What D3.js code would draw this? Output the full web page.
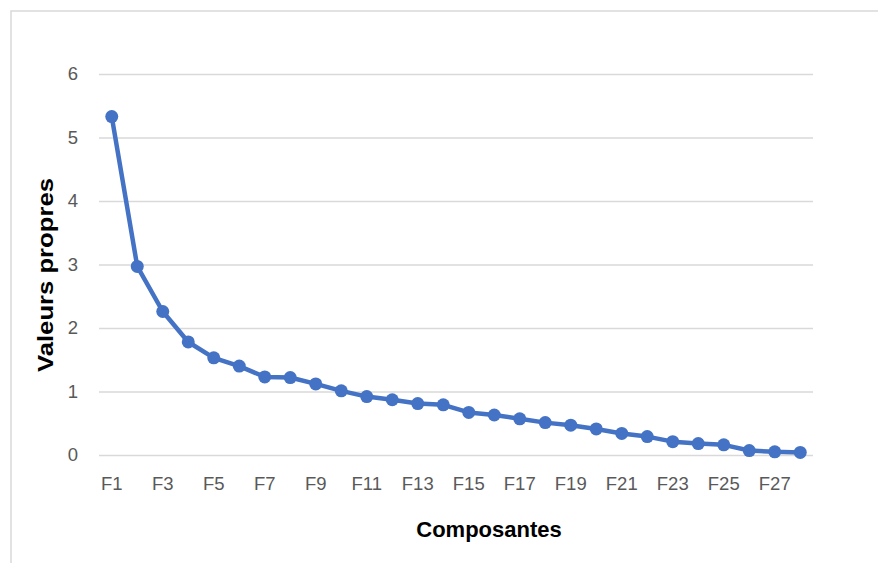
<!DOCTYPE html>
<html>
<head>
<meta charset="utf-8">
<script src="https://cdn.jsdelivr.net/npm/d3@7"></script>
<style>
  html, body { margin: 0; padding: 0; background: #fff; }
  svg { display: block; }
</style>
</head>
<body>
<svg id="chart" width="878" height="563"></svg>
<script>
// Eigenvalues of the principal components (scree plot)
const components = ["F1","F2","F3","F4","F5","F6","F7","F8","F9","F10","F11","F12","F13","F14",
                    "F15","F16","F17","F18","F19","F20","F21","F22","F23","F24","F25","F26","F27","F28"];
const eigenvalues = [5.33, 2.97, 2.26, 1.78, 1.53, 1.40, 1.23, 1.22, 1.12, 1.01, 0.92, 0.87, 0.81, 0.79,
                     0.67, 0.63, 0.57, 0.51, 0.47, 0.41, 0.34, 0.29, 0.21, 0.18, 0.16, 0.07, 0.05, 0.04];
const yTicks = [0, 1, 2, 3, 4, 5, 6];
const xTickLabels = components.filter((d, i) => i % 2 === 0);

const svg = d3.select("#chart");
const plot = { left: 99, right: 813, top: 74, bottom: 455 };
const font = "'Liberation Sans', Arial, sans-serif";
const blue = "#4472C4";
const grey = "#595959";

// Chart area frame
svg.append("rect")
  .attr("x", 11).attr("y", 11)
  .attr("width", 900).attr("height", 600)
  .attr("fill", "#fff")
  .attr("stroke", "#d9d9d9").attr("stroke-width", 1.5);

const x = d3.scaleBand().domain(components).range([plot.left, plot.right]);
const y = d3.scaleLinear().domain([0, 6]).range([plot.bottom, plot.top]);

// Horizontal gridlines with value labels
const yAxis = svg.append("g")
  .attr("transform", `translate(${plot.left},0)`)
  .call(d3.axisLeft(y).tickValues(yTicks).tickFormat(d3.format("d"))
          .tickSize(-(plot.right - plot.left)).tickPadding(21));
yAxis.select(".domain").remove();
yAxis.selectAll(".tick line").attr("stroke", "#d9d9d9").attr("stroke-width", 1.3);
yAxis.selectAll(".tick text")
  .attr("fill", grey).attr("font-family", font).attr("font-size", 18.5);

// Category labels (every other component)
const xAxis = svg.append("g")
  .attr("transform", `translate(0,${plot.bottom})`)
  .call(d3.axisBottom(x).tickValues(xTickLabels).tickSize(0).tickPadding(22));
xAxis.select(".domain").remove();
xAxis.selectAll(".tick text")
  .attr("fill", grey).attr("font-family", font).attr("font-size", 18.5);

const cx = d => x(d) + x.bandwidth() / 2;
const data = components.map((c, i) => ({ c, v: eigenvalues[i] }));

// Eigenvalue line
svg.append("path")
  .datum(data)
  .attr("fill", "none")
  .attr("stroke", blue)
  .attr("stroke-width", 4.5)
  .attr("stroke-linejoin", "round")
  .attr("stroke-linecap", "round")
  .attr("d", d3.line().x(d => cx(d.c)).y(d => y(d.v)));

// Markers
svg.append("g").selectAll("circle")
  .data(data)
  .join("circle")
  .attr("cx", d => cx(d.c))
  .attr("cy", d => y(d.v))
  .attr("r", 6.5)
  .attr("fill", blue);

// Axis titles
svg.append("text")
  .attr("x", 489).attr("y", 537)
  .attr("text-anchor", "middle")
  .attr("font-family", font).attr("font-weight", "bold").attr("font-size", 22)
  .attr("fill", "#000")
  .text("Composantes");

svg.append("text")
  .attr("transform", "translate(53,275) rotate(-90)")
  .attr("text-anchor", "middle")
  .attr("font-family", font).attr("font-weight", "bold").attr("font-size", 22)
  .attr("textLength", 194).attr("lengthAdjust", "spacingAndGlyphs")
  .attr("fill", "#000")
  .text("Valeurs propres");
</script>
</body>
</html>
